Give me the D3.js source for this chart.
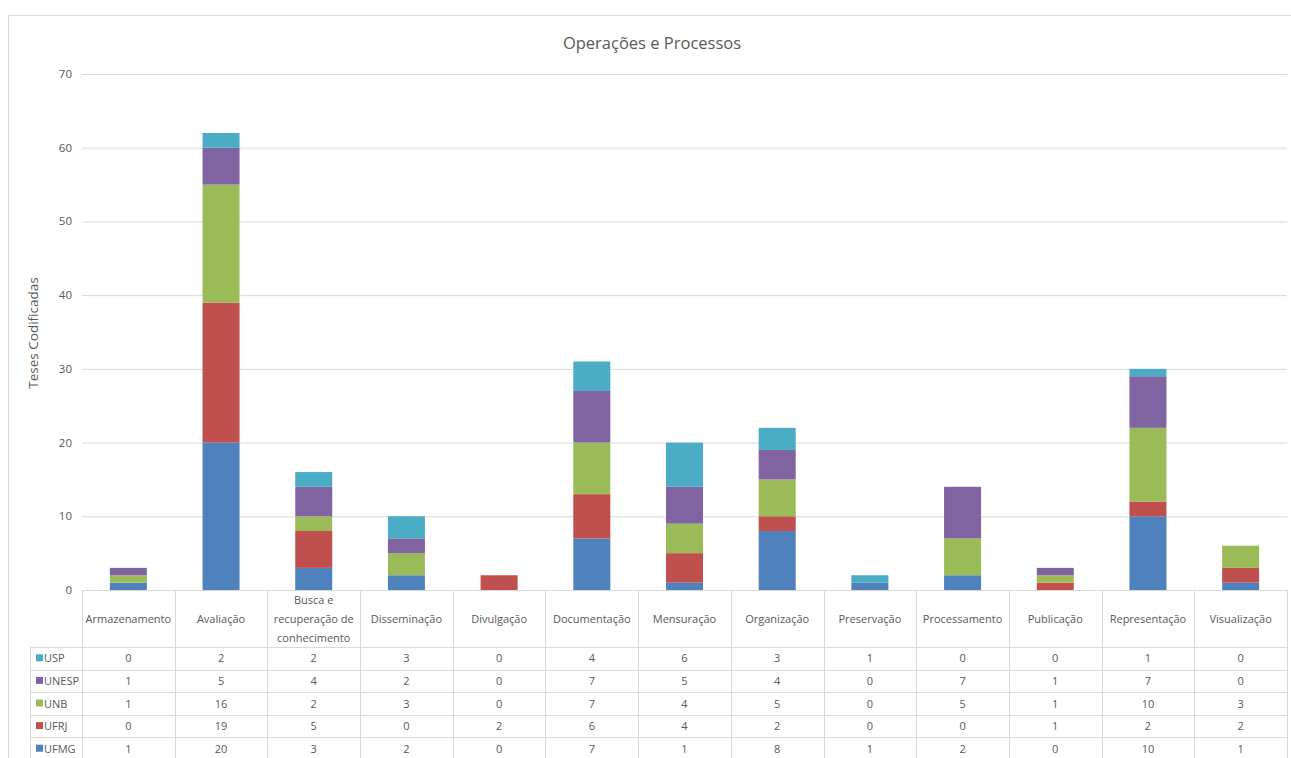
<!DOCTYPE html>
<html><head><meta charset="utf-8">
<script src="https://cdn.jsdelivr.net/npm/d3@7"></script>
<style>body{margin:0;background:#fff;}svg{display:block;font-family:"Open Sans",sans-serif;}</style>
</head><body><svg id="c" width="1291" height="758"></svg>
<script>
const categories = [["Armazenamento"],["Avaliação"],["Busca e","recuperação de","conhecimento"],["Disseminação"],["Divulgação"],["Documentação"],["Mensuração"],["Organização"],["Preservação"],["Processamento"],["Publicação"],["Representação"],["Visualização"]];
const seriesNames = ["UFMG","UFRJ","UNB","UNESP","USP"];
const UFMG  = [1,20,3,2,0,7,1,8,1,2,0,10,1];
const UFRJ  = [0,19,5,0,2,6,4,2,0,0,1,2,2];
const UNB   = [1,16,2,3,0,7,4,5,0,5,1,10,3];
const UNESP = [1,5,4,2,0,7,5,4,0,7,1,7,0];
const USP   = [0,2,2,3,0,4,6,3,1,0,0,1,0];
const yTicks = [0,10,20,30,40,50,60,70];
const colors = ["#4F81BD","#C0504D","#9BBB59","#8064A2","#4BACC6"];
const values = [UFMG,UFRJ,UNB,UNESP,USP];

const svg = d3.select("#c");
const txt = "#595959", grid = "#d9d9d9";
// frame
svg.append("rect").attr("x",8.5).attr("y",15.5).attr("width",1300).attr("height",800).attr("fill","none").attr("stroke","#d9d9d9");

const x0=82, x1=1287;
const keys = categories.map((d,i)=>i);
const x = d3.scaleBand().domain(keys).range([x0,x1]);
const y = d3.scaleLinear().domain([0,70]).range([590,74]);

// gridlines
svg.append("g").selectAll("line").data(yTicks.filter(t=>t>0)).join("line")
  .attr("x1",x0).attr("x2",x1).attr("y1",d=>y(d)+0.5).attr("y2",d=>y(d)+0.5).attr("stroke",grid);
svg.append("g").selectAll("text").data(yTicks).join("text")
  .attr("x",72).attr("y",d=>y(d)+4).attr("text-anchor","end").attr("font-size",11.5).attr("fill",txt).text(d=>d);

// stacked bars
const table = keys.map(i=>{const o={i}; seriesNames.forEach((s,j)=>o[s]=values[j][i]); return o;});
const stack = d3.stack().keys(seriesNames)(table);
const bw = 37;
svg.append("g").selectAll("g").data(stack).join("g").attr("fill",(d,j)=>colors[j])
  .selectAll("rect").data(d=>d).join("rect")
  .attr("x",d=>x(d.data.i)+x.bandwidth()/2-bw/2).attr("width",bw)
  .attr("y",d=>y(d[1])).attr("height",d=>y(d[0])-y(d[1]));

// title
svg.append("text").attr("x",652).attr("y",49).attr("text-anchor","middle").attr("font-size",16.5).attr("fill",txt).text("Operações e Processos");
// y label
svg.append("text").attr("transform","translate(38,333) rotate(-90)").attr("text-anchor","middle").attr("font-size",13.5).attr("fill",txt).text("Teses Codificadas");

// data table
const hTop=590, hBot=647, rowH=22.6, legX=30;
const tg = svg.append("g");
tg.append("line").attr("x1",x0).attr("x2",x1).attr("y1",hTop+0.5).attr("y2",hTop+0.5).attr("stroke",grid);
const bounds = keys.map(i=>x(i)).concat([x1]);
tg.selectAll("line.v").data(bounds).join("line").attr("class","v")
  .attr("x1",d=>Math.round(d)+0.5).attr("x2",d=>Math.round(d)+0.5).attr("y1",hTop).attr("y2",770).attr("stroke",grid);
tg.append("line").attr("x1",legX+0.5).attr("x2",legX+0.5).attr("y1",hBot).attr("y2",770).attr("stroke",grid);
const rowOrder = [4,3,2,1,0];
tg.selectAll("line.h").data(d3.range(6)).join("line").attr("class","h")
  .attr("x1",legX).attr("x2",x1).attr("y1",d=>Math.round(hBot+d*rowH)+0.5).attr("y2",d=>Math.round(hBot+d*rowH)+0.5).attr("stroke",grid);
categories.forEach((lines,i)=>{
  const cx = x(i)+x.bandwidth()/2;
  const n=lines.length, lh=19, mid=(hTop+hBot)/2;
  lines.forEach((l,k)=>{
    tg.append("text").attr("x",cx).attr("y",mid+(k-(n-1)/2)*lh+4).attr("text-anchor","middle").attr("font-size",11).attr("fill",txt).text(l);
  });
});
rowOrder.forEach((j,r)=>{
  const cy = hBot + r*rowH + rowH/2;
  tg.append("rect").attr("x",36).attr("y",cy-4).attr("width",7).attr("height",7).attr("fill",colors[j]);
  tg.append("text").attr("x",44).attr("y",cy+4).attr("font-size",11).attr("fill",txt).text(seriesNames[j]);
  values[j].forEach((v,i)=>{
    tg.append("text").attr("x",x(i)+x.bandwidth()/2).attr("y",cy+4).attr("text-anchor","middle").attr("font-size",11).attr("fill",txt).text(v);
  });
});
</script></body></html>
